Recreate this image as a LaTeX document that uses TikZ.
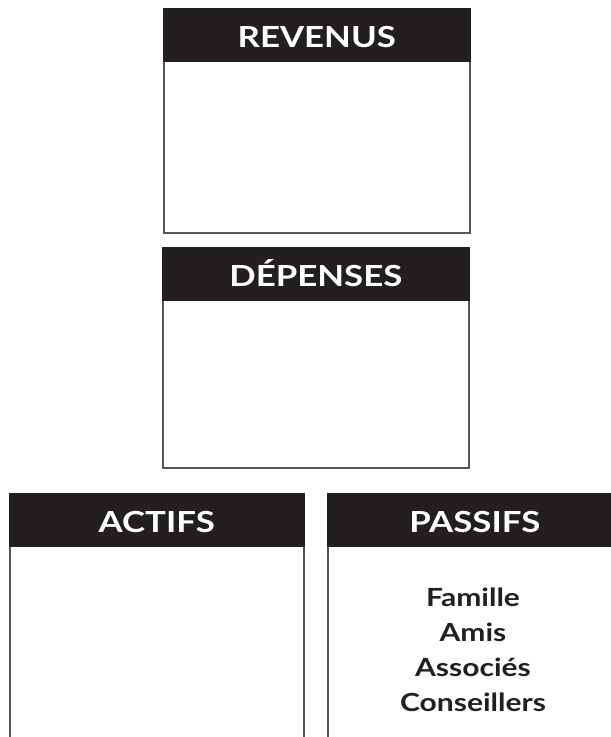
\documentclass[tikz,border=0pt]{standalone}
\usepackage{fontspec}
\setmainfont{Lato}[FakeStretch=1.2]
\definecolor{headblack}{HTML}{231F20}
\definecolor{edgegray}{HTML}{555555}
\begin{document}
\begin{tikzpicture}[
    x=1pt, y=-1pt,
    box/.style={draw=edgegray, line width=1.6pt, fill=white, anchor=north west, inner sep=0pt},
    header/.style={draw=headblack, line width=1.6pt, fill=headblack, text=white, anchor=north west, inner sep=0pt,
        minimum height=52pt, text height=25pt, text depth=0pt, font=\bfseries\fontsize{29}{32}\selectfont},
    entry/.style={text=headblack, align=center, font=\bfseries\fontsize{25}{35}\selectfont}
]
\useasboundingbox (0,0) rectangle (611,737);
\clip (0,0) rectangle (611,737);

% Top boxes
\node[box, minimum width=306pt, minimum height=224pt] (revenus) at (163,8) {};
\node[header, minimum width=306pt] (revenush) at (revenus.north west) {REVENUS};

\node[box, minimum width=306pt, minimum height=220pt] (depenses) at (162,247) {};
\node[header, minimum width=306pt] (depensesh) at (depenses.north west) {DÉPENSES};

% Bottom boxes (cut by the page)
\node[box, minimum width=294pt, minimum height=300pt] (actifs) at (9,493) {};
\node[header, minimum width=294pt] (actifsh) at (actifs.north west) {ACTIFS};

\node[box, minimum width=294pt, minimum height=300pt] (passifs) at (327,493) {};
\node[header, minimum width=294pt] (passifsh) at (passifs.north west) {PASSIFS};

% Passifs entries
\node[entry] (liste) at (473,650) {Famille\\Amis\\Associés\\Conseillers};

\end{tikzpicture}
\end{document}
